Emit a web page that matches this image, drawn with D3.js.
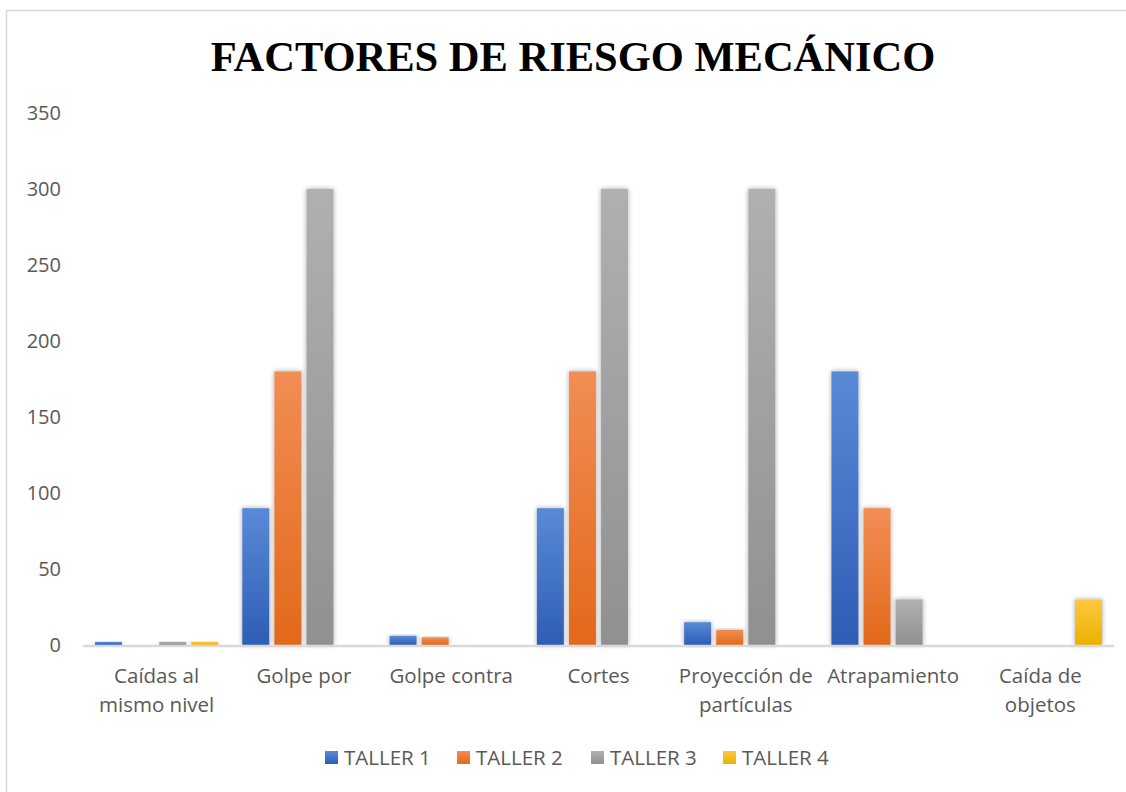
<html>
<head>
  <meta charset="utf-8">
  <title>Factores de riesgo mecánico</title>
  <script src="https://d3js.org/d3.v7.min.js"></script>
  <style>
    body { margin: 0; background: #fff; }
  </style>
</head>
<body>
<script>
var categories = [
  ["Caídas al", "mismo nivel"],
  ["Golpe por"],
  ["Golpe contra"],
  ["Cortes"],
  ["Proyección de", "partículas"],
  ["Atrapamiento"],
  ["Caída de", "objetos"]
];
var series = ["TALLER 1", "TALLER 2", "TALLER 3", "TALLER 4"];
var taller1 = [2, 90, 6, 90, 15, 180, 0];
var taller2 = [0, 180, 5, 180, 10, 90, 0];
var taller3 = [2, 300, 0, 300, 300, 30, 0];
var taller4 = [2, 0, 0, 0, 0, 0, 30];
var yTicks = [0, 50, 100, 150, 200, 250, 300, 350];

var values = [taller1, taller2, taller3, taller4];
var colors = [
  ["#5A8AD6", "#2E5DB5"],
  ["#F28D55", "#E2691A"],
  ["#B0B0B0", "#909090"],
  ["#FFC740", "#EAB200"]
];

var width = 1126, height = 792;
var svg = d3.select("body").append("svg")
  .attr("width", width)
  .attr("height", height);

// chart frame (only top and left edge visible)
svg.append("rect")
  .attr("x", 6.5).attr("y", 10.5)
  .attr("width", 1140).attr("height", 800)
  .attr("fill", "#fff")
  .attr("stroke", "#d9d9d9")
  .attr("stroke-width", 1.5);

var defs = svg.append("defs");
colors.forEach(function(c, i) {
  var g = defs.append("linearGradient")
    .attr("id", "grad" + i)
    .attr("x1", 0).attr("y1", 0).attr("x2", 0).attr("y2", 1);
  g.append("stop").attr("offset", "0%").attr("stop-color", c[0]);
  g.append("stop").attr("offset", "100%").attr("stop-color", c[1]);
});
var f = defs.append("filter").attr("id", "shadow")
  .attr("x", "-50%").attr("y", "-10%").attr("width", "200%").attr("height", "120%");
f.append("feDropShadow")
  .attr("dx", 0).attr("dy", 0).attr("stdDeviation", 2.5)
  .attr("flood-color", "#000").attr("flood-opacity", 0.35);

var margin = { left: 83, right: 12, top: 113, bottom: 147 };
var font = "'Open Sans', 'Noto Sans', sans-serif";

var x0 = d3.scaleBand()
  .domain(d3.range(categories.length))
  .range([margin.left, width - margin.right])
  .padding(0);

var x1 = d3.scaleBand()
  .domain(d3.range(series.length))
  .range([12, x0.bandwidth() - 12])
  .paddingInner(0.16);

var y = d3.scaleLinear()
  .domain([0, 350])
  .range([height - margin.bottom, margin.top]);

// title
svg.append("text")
  .attr("x", 573).attr("y", 71)
  .attr("text-anchor", "middle")
  .style("font-family", "'Liberation Serif', 'Times New Roman', serif")
  .style("font-weight", "bold")
  .style("font-size", "42.5px")
  .attr("fill", "#000")
  .text("FACTORES DE RIESGO MECÁNICO");

// y axis
var yAxis = svg.append("g")
  .attr("transform", "translate(" + 61 + ",0)")
  .call(d3.axisLeft(y).tickValues(yTicks).tickSize(0).tickPadding(0));
yAxis.select(".domain").remove();
yAxis.selectAll("text")
  .style("font-family", font)
  .style("font-size", "20px")
  .attr("fill", "#595959");

// bars
var groups = svg.selectAll("g.cat")
  .data(categories)
  .enter().append("g")
  .attr("class", "cat")
  .attr("transform", function(d, i) { return "translate(" + x0(i) + ",0)"; });

groups.selectAll("rect")
  .data(function(d, i) { return values.map(function(v, s) { return { s: s, v: v[i] }; }); })
  .enter().append("rect")
  .attr("x", function(d) { return x1(d.s); })
  .attr("width", x1.bandwidth())
  .attr("y", function(d) { return y(d.v); })
  .attr("height", function(d) { return y(0) - y(d.v); })
  .attr("fill", function(d) { return "url(#grad" + d.s + ")"; })
  .attr("filter", "url(#shadow)");

// x axis line
svg.append("line")
  .attr("x1", margin.left).attr("x2", width - margin.right)
  .attr("y1", y(0) + 1).attr("y2", y(0) + 1)
  .attr("stroke", "#d9d9d9")
  .attr("stroke-width", 2.5);

// category labels
groups.each(function(d) {
  var t = d3.select(this).append("text")
    .attr("text-anchor", "middle")
    .style("font-family", font)
    .style("font-size", "20.5px")
    .attr("fill", "#595959");
  d.forEach(function(line, k) {
    t.append("tspan")
      .attr("x", x0.bandwidth() / 2)
      .attr("y", y(0) + 38 + k * 29)
      .text(line);
  });
});

// legend
var legendX = [325, 457, 591, 723];
var legend = svg.selectAll("g.legend")
  .data(series)
  .enter().append("g")
  .attr("class", "legend")
  .attr("transform", function(d, i) { return "translate(" + legendX[i] + ",751)"; });
legend.append("rect")
  .attr("width", 13).attr("height", 13)
  .attr("fill", function(d, i) { return "url(#grad" + i + ")"; });
legend.append("text")
  .attr("x", 19).attr("y", 14)
  .style("font-family", font)
  .style("font-size", "20.5px")
  .attr("fill", "#595959")
  .text(function(d) { return d; });
</script>
</body>
</html>
